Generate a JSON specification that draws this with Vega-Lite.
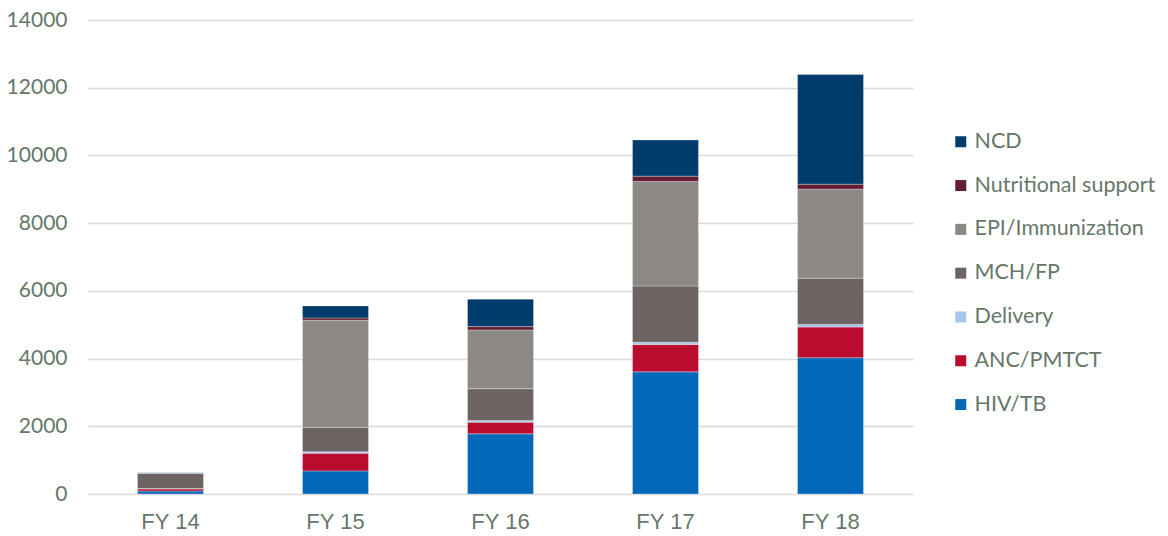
{
  "$schema": "https://vega.github.io/schema/vega-lite/v6.json",
  "width": 825,
  "height": 474,
  "autosize": {"type": "none"},
  "padding": {"left": 88, "top": 20, "right": 255, "bottom": 42},
  "background": "#ffffff",
  "config": {
    "view": {"stroke": null},
    "font": "Lato",
    "axis": {"labelFont": "Lato", "labelColor": "#66776a", "labelFontSize": 21}
  },
  "data": {
    "values": [
      {"year": "FY 14", "category": "HIV/TB", "rank": 1, "value": 90},
      {"year": "FY 14", "category": "ANC/PMTCT", "rank": 2, "value": 60},
      {"year": "FY 14", "category": "Delivery", "rank": 3, "value": 10},
      {"year": "FY 14", "category": "MCH/FP", "rank": 4, "value": 450},
      {"year": "FY 14", "category": "EPI/Immunization", "rank": 5, "value": 0},
      {"year": "FY 14", "category": "Nutritional support", "rank": 6, "value": 5},
      {"year": "FY 14", "category": "NCD", "rank": 7, "value": 15},

      {"year": "FY 15", "category": "HIV/TB", "rank": 1, "value": 682},
      {"year": "FY 15", "category": "ANC/PMTCT", "rank": 2, "value": 524},
      {"year": "FY 15", "category": "Delivery", "rank": 3, "value": 40},
      {"year": "FY 15", "category": "MCH/FP", "rank": 4, "value": 721},
      {"year": "FY 15", "category": "EPI/Immunization", "rank": 5, "value": 3164},
      {"year": "FY 15", "category": "Nutritional support", "rank": 6, "value": 69},
      {"year": "FY 15", "category": "NCD", "rank": 7, "value": 356},

      {"year": "FY 16", "category": "HIV/TB", "rank": 1, "value": 1777},
      {"year": "FY 16", "category": "ANC/PMTCT", "rank": 2, "value": 345},
      {"year": "FY 16", "category": "Delivery", "rank": 3, "value": 49},
      {"year": "FY 16", "category": "MCH/FP", "rank": 4, "value": 938},
      {"year": "FY 16", "category": "EPI/Immunization", "rank": 5, "value": 1737},
      {"year": "FY 16", "category": "Nutritional support", "rank": 6, "value": 99},
      {"year": "FY 16", "category": "NCD", "rank": 7, "value": 809},

      {"year": "FY 17", "category": "HIV/TB", "rank": 1, "value": 3608},
      {"year": "FY 17", "category": "ANC/PMTCT", "rank": 2, "value": 806},
      {"year": "FY 17", "category": "Delivery", "rank": 3, "value": 68},
      {"year": "FY 17", "category": "MCH/FP", "rank": 4, "value": 1662},
      {"year": "FY 17", "category": "EPI/Immunization", "rank": 5, "value": 3086},
      {"year": "FY 17", "category": "Nutritional support", "rank": 6, "value": 158},
      {"year": "FY 17", "category": "NCD", "rank": 7, "value": 1071},

      {"year": "FY 18", "category": "HIV/TB", "rank": 1, "value": 4025},
      {"year": "FY 18", "category": "ANC/PMTCT", "rank": 2, "value": 905},
      {"year": "FY 18", "category": "Delivery", "rank": 3, "value": 79},
      {"year": "FY 18", "category": "MCH/FP", "rank": 4, "value": 1367},
      {"year": "FY 18", "category": "EPI/Immunization", "rank": 5, "value": 2628},
      {"year": "FY 18", "category": "Nutritional support", "rank": 6, "value": 147},
      {"year": "FY 18", "category": "NCD", "rank": 7, "value": 3238}
    ]
  },
  "mark": {"type": "bar", "stroke": "#ffffff", "strokeWidth": 0.5, "strokeOpacity": 0.6},
  "encoding": {
    "x": {
      "field": "year",
      "type": "nominal",
      "title": null,
      "scale": {"paddingInner": 0.6, "paddingOuter": 0.3},
      "axis": {"labelAngle": 0, "domain": false, "ticks": false, "labelPadding": 17, "labelFontSize": 22, "labelFont": "Liberation Sans"}
    },
    "y": {
      "field": "value",
      "type": "quantitative",
      "aggregate": "sum",
      "stack": "zero",
      "title": null,
      "scale": {"domain": [0, 14000], "nice": false},
      "axis": {
        "values": [0, 2000, 4000, 6000, 8000, 10000, 12000, 14000],
        "format": "d",
        "domain": false,
        "ticks": false,
        "labelPadding": 21,
        "gridColor": "#d9d9d9",
        "gridWidth": 1.3
      }
    },
    "color": {
      "field": "category",
      "type": "nominal",
      "title": null,
      "scale": {
        "domain": ["NCD", "Nutritional support", "EPI/Immunization", "MCH/FP", "Delivery", "ANC/PMTCT", "HIV/TB"],
        "range": ["#023c6c", "#651d32", "#8c8985", "#6c6463", "#a7c6ed", "#ba0c2f", "#0067b9"]
      },
      "legend": {
        "orient": "none",
        "legendX": 862,
        "legendY": 111,
        "symbolType": "square",
        "symbolSize": 121,
        "symbolStrokeWidth": 0,
        "rowPadding": 20.8,
        "labelOffset": 3,
        "labelFontSize": 21.5,
        "labelFont": "Lato",
        "labelColor": "#66776a",
        "labelLimit": 300
      }
    },
    "order": {"field": "rank", "type": "quantitative", "sort": "ascending"}
  }
}
